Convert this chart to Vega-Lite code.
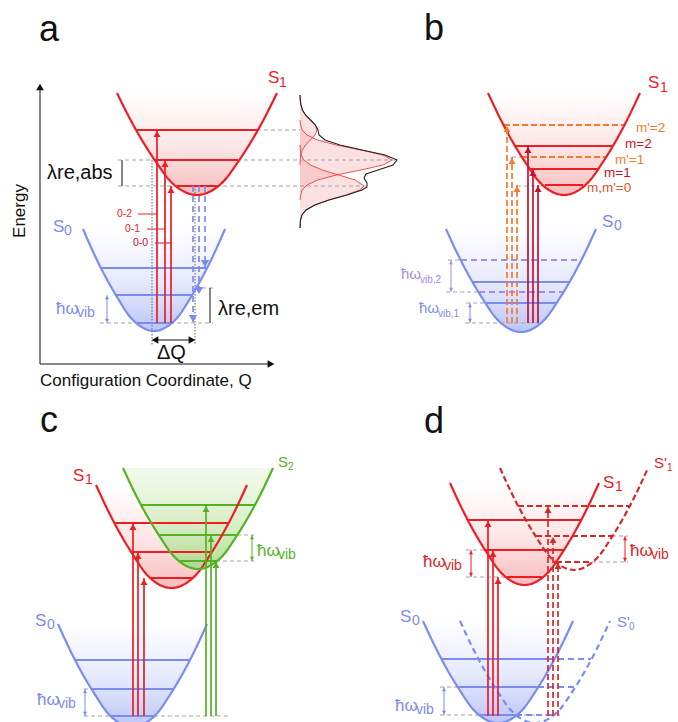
{
 "$schema": "https://vega.github.io/schema/vega-lite/v6.json",
 "width": 678, "height": 722, "padding": 0, "autosize": {"type": "none"},
 "background": "white",
 "config": {"view": {"stroke": null}, "text": {"font": "Liberation Sans"}},
 "datasets": {
  "curves": [
   {"id":"aS1","s":"S1","x":117,"y":93},{"id":"aS1","s":"S1","x":130.3,"y":119.5},{"id":"aS1","s":"S1","x":143.7,"y":143},{"id":"aS1","s":"S1","x":157,"y":163.4},{"id":"aS1","s":"S1","x":170.3,"y":181.2},{"id":"aS1","s":"S1","x":183.7,"y":191.4},{"id":"aS1","s":"S1","x":197,"y":195},{"id":"aS1","s":"S1","x":210.3,"y":191.4},{"id":"aS1","s":"S1","x":223.7,"y":181.2},{"id":"aS1","s":"S1","x":237,"y":163.4},{"id":"aS1","s":"S1","x":250.3,"y":143},{"id":"aS1","s":"S1","x":263.7,"y":119.5},{"id":"aS1","s":"S1","x":277,"y":93},
   {"id":"aS0","s":"S0","x":83,"y":229},{"id":"aS0","s":"S0","x":94.8,"y":255.5},{"id":"aS0","s":"S0","x":106.7,"y":279},{"id":"aS0","s":"S0","x":118.5,"y":299.4},{"id":"aS0","s":"S0","x":130.3,"y":317.2},{"id":"aS0","s":"S0","x":142.2,"y":327.4},{"id":"aS0","s":"S0","x":154,"y":331},{"id":"aS0","s":"S0","x":165.8,"y":327.4},{"id":"aS0","s":"S0","x":177.7,"y":317.2},{"id":"aS0","s":"S0","x":189.5,"y":299.4},{"id":"aS0","s":"S0","x":201.3,"y":279},{"id":"aS0","s":"S0","x":213.2,"y":255.5},{"id":"aS0","s":"S0","x":225,"y":229},
   {"id":"bS1","s":"S1","x":488,"y":93},{"id":"bS1","s":"S1","x":500.7,"y":119.5},{"id":"bS1","s":"S1","x":513.3,"y":143},{"id":"bS1","s":"S1","x":526,"y":163.4},{"id":"bS1","s":"S1","x":538.7,"y":181.2},{"id":"bS1","s":"S1","x":551.3,"y":191.4},{"id":"bS1","s":"S1","x":564,"y":195},{"id":"bS1","s":"S1","x":576.7,"y":191.4},{"id":"bS1","s":"S1","x":589.3,"y":181.2},{"id":"bS1","s":"S1","x":602,"y":163.4},{"id":"bS1","s":"S1","x":614.7,"y":143},{"id":"bS1","s":"S1","x":627.3,"y":119.5},{"id":"bS1","s":"S1","x":640,"y":93},
   {"id":"bS0","s":"S0","x":446,"y":229},{"id":"bS0","s":"S0","x":458.5,"y":255.8},{"id":"bS0","s":"S0","x":471,"y":279.5},{"id":"bS0","s":"S0","x":483.5,"y":300.1},{"id":"bS0","s":"S0","x":496,"y":318.1},{"id":"bS0","s":"S0","x":508.5,"y":328.4},{"id":"bS0","s":"S0","x":521,"y":332},{"id":"bS0","s":"S0","x":533.5,"y":328.4},{"id":"bS0","s":"S0","x":546,"y":318.1},{"id":"bS0","s":"S0","x":558.5,"y":300.1},{"id":"bS0","s":"S0","x":571,"y":279.5},{"id":"bS0","s":"S0","x":583.5,"y":255.8},{"id":"bS0","s":"S0","x":596,"y":229},
   {"id":"cS1","s":"S1","x":96,"y":485},{"id":"cS1","s":"S1","x":108.6,"y":511.8},{"id":"cS1","s":"S1","x":121.2,"y":535.5},{"id":"cS1","s":"S1","x":133.8,"y":556.1},{"id":"cS1","s":"S1","x":146.3,"y":574.1},{"id":"cS1","s":"S1","x":158.9,"y":584.4},{"id":"cS1","s":"S1","x":171.5,"y":588},{"id":"cS1","s":"S1","x":184.1,"y":584.4},{"id":"cS1","s":"S1","x":196.7,"y":574.1},{"id":"cS1","s":"S1","x":209.3,"y":556.1},{"id":"cS1","s":"S1","x":221.8,"y":535.5},{"id":"cS1","s":"S1","x":234.4,"y":511.8},{"id":"cS1","s":"S1","x":247,"y":485},
   {"id":"cS2","s":"S2","x":123,"y":468},{"id":"cS2","s":"S2","x":135.5,"y":494.3},{"id":"cS2","s":"S2","x":148,"y":517.5},{"id":"cS2","s":"S2","x":160.5,"y":537.7},{"id":"cS2","s":"S2","x":173,"y":555.4},{"id":"cS2","s":"S2","x":185.5,"y":565.5},{"id":"cS2","s":"S2","x":198,"y":569},{"id":"cS2","s":"S2","x":210.5,"y":565.5},{"id":"cS2","s":"S2","x":223,"y":555.4},{"id":"cS2","s":"S2","x":235.5,"y":537.7},{"id":"cS2","s":"S2","x":248,"y":517.5},{"id":"cS2","s":"S2","x":260.5,"y":494.3},{"id":"cS2","s":"S2","x":273,"y":468},
   {"id":"cS0","s":"S0","x":58,"y":624},{"id":"cS0","s":"S0","x":70.4,"y":650.8},{"id":"cS0","s":"S0","x":82.8,"y":674.5},{"id":"cS0","s":"S0","x":95.3,"y":695.1},{"id":"cS0","s":"S0","x":107.7,"y":713.1},{"id":"cS0","s":"S0","x":120.1,"y":723.4},{"id":"cS0","s":"S0","x":132.5,"y":727},{"id":"cS0","s":"S0","x":144.9,"y":723.4},{"id":"cS0","s":"S0","x":157.3,"y":713.1},{"id":"cS0","s":"S0","x":169.8,"y":695.1},{"id":"cS0","s":"S0","x":182.2,"y":674.5},{"id":"cS0","s":"S0","x":194.6,"y":650.8},{"id":"cS0","s":"S0","x":207,"y":624},
   {"id":"dS1","s":"S1","x":450,"y":483},{"id":"dS1","s":"S1","x":462.4,"y":509.5},{"id":"dS1","s":"S1","x":474.8,"y":533},{"id":"dS1","s":"S1","x":487.3,"y":553.4},{"id":"dS1","s":"S1","x":499.7,"y":571.2},{"id":"dS1","s":"S1","x":512.1,"y":581.4},{"id":"dS1","s":"S1","x":524.5,"y":585},{"id":"dS1","s":"S1","x":536.9,"y":581.4},{"id":"dS1","s":"S1","x":549.3,"y":571.2},{"id":"dS1","s":"S1","x":561.8,"y":553.4},{"id":"dS1","s":"S1","x":574.2,"y":533},{"id":"dS1","s":"S1","x":586.6,"y":509.5},{"id":"dS1","s":"S1","x":599,"y":483},
   {"id":"dS1p","s":"S1'","x":500,"y":468},{"id":"dS1p","s":"S1'","x":512.3,"y":494.5},{"id":"dS1p","s":"S1'","x":524.7,"y":518},{"id":"dS1p","s":"S1'","x":537,"y":538.4},{"id":"dS1p","s":"S1'","x":549.3,"y":556.2},{"id":"dS1p","s":"S1'","x":561.7,"y":566.4},{"id":"dS1p","s":"S1'","x":574,"y":570},{"id":"dS1p","s":"S1'","x":586.3,"y":566.4},{"id":"dS1p","s":"S1'","x":598.7,"y":556.2},{"id":"dS1p","s":"S1'","x":611,"y":538.4},{"id":"dS1p","s":"S1'","x":623.3,"y":518},{"id":"dS1p","s":"S1'","x":635.7,"y":494.5},{"id":"dS1p","s":"S1'","x":648,"y":468},
   {"id":"dS0","s":"S0","x":423,"y":621},{"id":"dS0","s":"S0","x":435.5,"y":647.5},{"id":"dS0","s":"S0","x":448,"y":671},{"id":"dS0","s":"S0","x":460.5,"y":691.4},{"id":"dS0","s":"S0","x":473,"y":709.2},{"id":"dS0","s":"S0","x":485.5,"y":719.4},{"id":"dS0","s":"S0","x":498,"y":723},{"id":"dS0","s":"S0","x":510.5,"y":719.4},{"id":"dS0","s":"S0","x":523,"y":709.2},{"id":"dS0","s":"S0","x":535.5,"y":691.4},{"id":"dS0","s":"S0","x":548,"y":671},{"id":"dS0","s":"S0","x":560.5,"y":647.5},{"id":"dS0","s":"S0","x":573,"y":621},
   {"id":"dS0p","s":"S0'","x":460,"y":621},{"id":"dS0p","s":"S0'","x":472.5,"y":647.5},{"id":"dS0p","s":"S0'","x":485,"y":671},{"id":"dS0p","s":"S0'","x":497.5,"y":691.4},{"id":"dS0p","s":"S0'","x":510,"y":709.2},{"id":"dS0p","s":"S0'","x":522.5,"y":719.4},{"id":"dS0p","s":"S0'","x":535,"y":723},{"id":"dS0p","s":"S0'","x":547.5,"y":719.4},{"id":"dS0p","s":"S0'","x":560,"y":709.2},{"id":"dS0p","s":"S0'","x":572.5,"y":691.4},{"id":"dS0p","s":"S0'","x":585,"y":671},{"id":"dS0p","s":"S0'","x":597.5,"y":647.5},{"id":"dS0p","s":"S0'","x":610,"y":621}
  ],
  "spec": [
   {"c":"A","y":95,"x":300},{"c":"A","y":100,"x":300.2},{"c":"A","y":105,"x":300.7},{"c":"A","y":110,"x":302.3},{"c":"A","y":115,"x":305.5},{"c":"A","y":120,"x":310.3},{"c":"A","y":125,"x":315},{"c":"A","y":130,"x":317},{"c":"A","y":135,"x":315},{"c":"A","y":140,"x":310.3},{"c":"A","y":145,"x":305.5},{"c":"A","y":150,"x":302.3},{"c":"A","y":155,"x":300.7},{"c":"A","y":160,"x":300.2},{"c":"A","y":165,"x":300},
   {"c":"B","y":120,"x":300},{"c":"B","y":125,"x":300.6},{"c":"B","y":130,"x":302.2},{"c":"B","y":135,"x":307},{"c":"B","y":140,"x":317.6},{"c":"B","y":145,"x":336.3},{"c":"B","y":150,"x":360.9},{"c":"B","y":155,"x":383},{"c":"B","y":160,"x":392},{"c":"B","y":165,"x":383},{"c":"B","y":170,"x":360.9},{"c":"B","y":175,"x":336.3},{"c":"B","y":180,"x":317.6},{"c":"B","y":185,"x":307},{"c":"B","y":190,"x":302.2},{"c":"B","y":195,"x":300.6},{"c":"B","y":200,"x":300},
   {"c":"C","y":145,"x":300},{"c":"C","y":150,"x":300.3},{"c":"C","y":155,"x":301.2},{"c":"C","y":160,"x":303.9},{"c":"C","y":165,"x":310.4},{"c":"C","y":170,"x":322.2},{"c":"C","y":175,"x":338.8},{"c":"C","y":180,"x":355.2},{"c":"C","y":186,"x":364},{"c":"C","y":190,"x":359.9},{"c":"C","y":195,"x":345.8},{"c":"C","y":200,"x":328.5},{"c":"C","y":205,"x":314.4},{"c":"C","y":210,"x":306},{"c":"C","y":215,"x":302},{"c":"C","y":220,"x":300.5},{"c":"C","y":228,"x":300}
  ],
  "total": [
   {"y":95,"x":300},{"y":100,"x":300.3},{"y":105,"x":301},{"y":110,"x":302.5},{"y":115,"x":305.5},{"y":120,"x":310.5},{"y":125,"x":315.5},{"y":130,"x":318},{"y":135,"x":319},{"y":140,"x":325},{"y":145,"x":340},{"y":150,"x":362},{"y":155,"x":385},{"y":160,"x":397},{"y":165,"x":393},{"y":170,"x":378},{"y":174,"x":366},{"y":178,"x":364},{"y":183,"x":367},{"y":187,"x":367},{"y":190,"x":362},{"y":195,"x":347},{"y":200,"x":329},{"y":205,"x":315},{"y":210,"x":306},{"y":215,"x":302},{"y":220,"x":300.5},{"y":228,"x":300}
  ],
  "levels": [
   {"s":"S1","y":130,"x":137,"x2":257},{"s":"S1","y":160,"x":155,"x2":238},{"s":"S1","y":186,"x":177,"x2":217},
   {"s":"S0","y":268,"x":101,"x2":206},{"s":"S0","y":295,"x":116,"x2":192},{"s":"S0","y":323,"x":137,"x2":171},
   {"s":"m'","y":125,"x":504,"x2":624},{"s":"S1","y":146,"x":515,"x2":613},{"s":"m'","y":157,"x":522,"x2":606},{"s":"S1","y":169,"x":530,"x2":598},{"s":"S1","y":185,"x":545,"x2":583},
   {"s":"v2","y":260,"x":461,"x2":581},{"s":"S0","y":282,"x":472,"x2":569},{"s":"v2","y":292,"x":479,"x2":563},{"s":"S0","y":303,"x":485,"x2":557},
   {"s":"S1","y":523,"x":115,"x2":228},{"s":"S1","y":552,"x":131,"x2":212},{"s":"S1","y":578,"x":151,"x2":192},
   {"s":"S2","y":505,"x":141,"x2":255},{"s":"S2","y":535,"x":159,"x2":237},{"s":"S2","y":561,"x":180,"x2":216},
   {"s":"S0","y":660,"x":75,"x2":190},{"s":"S0","y":689,"x":92,"x2":173},{"s":"S0","y":716,"x":111,"x2":154},
   {"s":"S1","y":520,"x":468,"x2":581},{"s":"S1","y":550,"x":485,"x2":564},{"s":"S1","y":577,"x":507,"x2":542},
   {"s":"S1'","y":506,"x":518,"x2":630},{"s":"S1'","y":536,"x":536,"x2":612},{"s":"S1'","y":562,"x":556,"x2":592},
   {"s":"S0","y":659,"x":442,"x2":548},{"s":"S0","y":687,"x":458,"x2":538},{"s":"S0","y":715,"x":480,"x2":516},
   {"s":"S0'","y":659,"x":548,"x2":591},{"s":"S0'","y":687,"x":538,"x2":575},{"s":"S0'","y":715,"x":516,"x2":553}
  ],
  "hguides": [
   {"s":"guide","y":130,"x":257,"x2":300},{"s":"guide","y":160,"x":118,"x2":397},{"s":"guide","y":186,"x":118,"x2":367},{"s":"guide","y":288,"x":195,"x2":214},{"s":"guide","y":323,"x":100,"x2":213},
   {"s":"S1","y":214,"x":138,"x2":157},{"s":"S1","y":229,"x":147,"x2":165},{"s":"crim","y":243,"x":155,"x2":171},
   {"s":"guide","y":260,"x":448,"x2":461},{"s":"guide","y":292,"x":446,"x2":479},{"s":"guide","y":303,"x":466,"x2":485},{"s":"guide","y":323,"x":465,"x2":540},{"s":"guide","y":157,"x":512,"x2":523},{"s":"guide","y":186,"x":517,"x2":545},
   {"s":"guide","y":535,"x":237,"x2":254},{"s":"guide","y":561,"x":216,"x2":254},{"s":"guide","y":689,"x":84,"x2":92},{"s":"guide","y":716,"x":84,"x2":228},
   {"s":"guide","y":550,"x":466,"x2":485},{"s":"guide","y":577,"x":466,"x2":507},{"s":"guide","y":536,"x":612,"x2":628},{"s":"guide","y":562,"x":592,"x2":628},{"s":"guide","y":687,"x":440,"x2":458},{"s":"guide","y":715,"x":440,"x2":560},
   {"s":"ink","y":364,"x":40,"x2":271},{"s":"ink","y":340,"x":154,"x2":193}
  ],
  "vguides": [
   {"s":"dot","x":152,"y":160,"y2":345},{"s":"dot","x":195,"y":186,"y2":345},
   {"s":"ink","x":40,"y":88,"y2":364},
   {"s":"ink","x":122,"y":160,"y2":186},{"s":"ink","x":210,"y":288,"y2":323}
  ],
  "arrows": [
   {"s":"S1","tr":"abs","x":157,"y":323,"y2":130},{"s":"S1","tr":"abs","x":165,"y":323,"y2":160},{"s":"S1","tr":"abs","x":171,"y":323,"y2":186},
   {"s":"S0'","tr":"em","x":193,"y":186,"y2":323},{"s":"S0'","tr":"em","x":199,"y":186,"y2":295},{"s":"S0'","tr":"em","x":205,"y":186,"y2":268},
   {"s":"m'","tr":"abs","x":507,"y":323,"y2":125},{"s":"m'","tr":"abs","x":512,"y":323,"y2":157},{"s":"m'","tr":"abs","x":517,"y":323,"y2":185},
   {"s":"crim","tr":"abs","x":528,"y":323,"y2":146},{"s":"crim","tr":"abs","x":533,"y":323,"y2":169},{"s":"crim","tr":"abs","x":538,"y":323,"y2":185},
   {"s":"S1","tr":"abs","x":133,"y":716,"y2":523},{"s":"S1","tr":"abs","x":138,"y":716,"y2":552},{"s":"S1","tr":"abs","x":144,"y":716,"y2":578},
   {"s":"S2","tr":"abs","x":206,"y":716,"y2":505},{"s":"S2","tr":"abs","x":211,"y":716,"y2":535},{"s":"S2","tr":"abs","x":216,"y":716,"y2":561},
   {"s":"S1","tr":"abs","x":488,"y":716,"y2":520},{"s":"S1","tr":"abs","x":493,"y":716,"y2":550},{"s":"S1","tr":"abs","x":498,"y":716,"y2":577},
   {"s":"S1'","tr":"abs","x":548,"y":716,"y2":506},{"s":"S1'","tr":"abs","x":553,"y":716,"y2":536},{"s":"S1'","tr":"abs","x":558,"y":716,"y2":562}
  ],
  "brackets": [
   {"s":"S0","x":107,"y":295,"y2":323},{"s":"v2","x":451,"y":260,"y2":292},{"s":"S0","x":470,"y":303,"y2":323},
   {"s":"S2","x":252,"y":535,"y2":561},{"s":"S0","x":85,"y":689,"y2":716},
   {"s":"S1","x":471,"y":550,"y2":577},{"s":"S1","x":625,"y":536,"y2":562},{"s":"S0","x":444,"y":687,"y2":715}
  ],
  "heads": [
   {"d":"up","x":40,"y":87},{"d":"right","x":271,"y":364},{"d":"left","x":155,"y":340},{"d":"right","x":192,"y":340}
  ],
  "labels": [
   {"t":"a","x":39,"y":41,"s":"ink","r":"L"},{"t":"b","x":424,"y":40,"s":"ink","r":"L"},{"t":"c","x":40,"y":432,"s":"ink","r":"L"},{"t":"d","x":424,"y":433,"s":"ink","r":"L"},
   {"t":"Configuration Coordinate, Q","x":40,"y":386,"s":"ink","r":"ax"},
   {"t":"S","x":268,"y":83,"s":"S1","r":"st"},{"t":"1","x":279,"y":87,"s":"S1","r":"stS"},
   {"t":"S","x":53,"y":232,"s":"S0","r":"st"},{"t":"0","x":64,"y":235,"s":"S0","r":"stS"},
   {"t":"λre,abs","x":47,"y":179,"s":"ink","r":"big"},{"t":"λre,em","x":218,"y":315,"s":"ink","r":"big"},{"t":"ΔQ","x":157,"y":359,"s":"ink","r":"big"},
   {"t":"ħω","x":56,"y":314,"s":"S0","r":"hw"},{"t":"vib","x":77,"y":317,"s":"S0","r":"hws"},
   {"t":"0-2","x":117,"y":217,"s":"S1","r":"tr"},{"t":"0-1","x":125,"y":232,"s":"S1","r":"tr"},{"t":"0-0","x":133,"y":246,"s":"crim","r":"tr"},
   {"t":"S","x":648,"y":88,"s":"S1","r":"st"},{"t":"1","x":660,"y":92,"s":"S1","r":"stS"},
   {"t":"S","x":602,"y":227,"s":"S0","r":"st"},{"t":"0","x":614,"y":230,"s":"S0","r":"stS"},
   {"t":"m'=2","x":636,"y":132,"s":"m'","r":"m"},{"t":"m=2","x":625,"y":148,"s":"crim","r":"m"},{"t":"m'=1","x":615,"y":164,"s":"m'","r":"m"},{"t":"m=1","x":604,"y":177,"s":"crim","r":"m"},{"t":"m,m'=0","x":587,"y":192,"s":"m0","r":"m"},
   {"t":"ħω","x":401,"y":279,"s":"v2","r":"hw2"},{"t":"vib,2","x":420,"y":283,"s":"v2","r":"hw2s"},
   {"t":"ħω","x":419,"y":313,"s":"S0","r":"hw2"},{"t":"vib,1","x":438,"y":317,"s":"S0","r":"hw2s"},
   {"t":"S","x":73,"y":481,"s":"S1","r":"st"},{"t":"1","x":85,"y":484,"s":"S1","r":"stS"},
   {"t":"S","x":278,"y":467,"s":"S2","r":"st2"},{"t":"2","x":288,"y":470,"s":"S2","r":"st2S"},
   {"t":"S","x":35,"y":626,"s":"S0","r":"st"},{"t":"0","x":47,"y":629,"s":"S0","r":"stS"},
   {"t":"ħω","x":257,"y":556,"s":"S2","r":"hw"},{"t":"vib","x":278,"y":559,"s":"S2","r":"hws"},
   {"t":"ħω","x":37,"y":705,"s":"S0","r":"hw"},{"t":"vib","x":58,"y":708,"s":"S0","r":"hws"},
   {"t":"S","x":603,"y":488,"s":"S1","r":"st"},{"t":"1","x":615,"y":491,"s":"S1","r":"stS"},
   {"t":"S'","x":654,"y":468,"s":"S1'","r":"st2"},{"t":"1","x":667,"y":471,"s":"S1'","r":"st2S"},
   {"t":"ħω","x":423,"y":567,"s":"S1'","r":"hw"},{"t":"vib","x":444,"y":570,"s":"S1'","r":"hws"},
   {"t":"ħω","x":630,"y":556,"s":"S1'","r":"hw"},{"t":"vib","x":651,"y":559,"s":"S1'","r":"hws"},
   {"t":"S","x":400,"y":622,"s":"S0","r":"st"},{"t":"0","x":412,"y":625,"s":"S0","r":"stS"},
   {"t":"S'","x":617,"y":627,"s":"S0","r":"st2"},{"t":"0","x":629,"y":630,"s":"S0","r":"st2S"},
   {"t":"ħω","x":395,"y":711,"s":"S0","r":"hw"},{"t":"vib","x":416,"y":714,"s":"S0","r":"hws"}
  ],
  "vlabels": [{"t":"Energy","x":25,"y":211,"s":"ink"}]
 },
 "encoding": {
  "x": {"field":"x","type":"quantitative","scale":{"domain":[0,678],"nice":false,"zero":false},"axis":null},
  "y": {"field":"y","type":"quantitative","scale":{"domain":[0,722],"nice":false,"zero":false,"reverse":true},"axis":null}
 },
 "layer": [
  {"data":{"name":"curves"},
   "transform":[{"filter":{"field":"id","oneOf":["aS1","bS1","cS1","dS1"]}},{"joinaggregate":[{"op":"min","field":"y","as":"top"}],"groupby":["id"]}],
   "mark":{"type":"area","clip":true,"fill":{"gradient":"linear","x1":0,"y1":0,"x2":0,"y2":1,"stops":[{"offset":0,"color":"#ffffff"},{"offset":0.55,"color":"#fde4e4"},{"offset":1,"color":"#f8bdbd"}]}},
   "encoding":{"y2":{"field":"top"},"detail":{"field":"id"}}},
  {"data":{"name":"curves"},
   "transform":[{"filter":{"field":"id","oneOf":["aS0","bS0","cS0","dS0"]}},{"joinaggregate":[{"op":"min","field":"y","as":"top"}],"groupby":["id"]}],
   "mark":{"type":"area","clip":true,"fill":{"gradient":"linear","x1":0,"y1":0,"x2":0,"y2":1,"stops":[{"offset":0,"color":"#ffffff"},{"offset":0.55,"color":"#e4e8fd"},{"offset":1,"color":"#bcc6f7"}]}},
   "encoding":{"y2":{"field":"top"},"detail":{"field":"id"}}},
  {"data":{"name":"curves"},
   "transform":[{"filter":{"field":"id","oneOf":["cS2"]}},{"joinaggregate":[{"op":"min","field":"y","as":"top"}],"groupby":["id"]}],
   "mark":{"type":"area","clip":true,"opacity":0.85,"fill":{"gradient":"linear","x1":0,"y1":0,"x2":0,"y2":1,"stops":[{"offset":0,"color":"#f1faea"},{"offset":0.55,"color":"#d3edc0"},{"offset":1,"color":"#a6d986"}]}},
   "encoding":{"y2":{"field":"top"},"detail":{"field":"id"}}},
  {"data":{"name":"spec"},
   "mark":{"type":"area","orient":"horizontal","fill":"#f29a9a","fillOpacity":0.3},
   "encoding":{"x2":{"datum":300},"detail":{"field":"c"}}},
  {"data":{"name":"spec"},
   "mark":{"type":"line","color":"#ee2a2a","strokeWidth":0.8},
   "encoding":{"detail":{"field":"c"},"order":{"field":"y","type":"quantitative"}}},
  {"data":{"name":"total"},
   "mark":{"type":"line","color":"#222222","strokeWidth":1.1},
   "encoding":{"order":{"field":"y","type":"quantitative"}}},
  {"data":{"name":"hguides"},
   "mark":{"type":"rule","strokeWidth":1},
   "encoding":{"x2":{"field":"x2"},
    "color":{"field":"s","type":"nominal","legend":null,"scale":{"domain":["S1","S1'","S0","S0'","S2","m'","v2","crim","m0","ink","guide","dot"],"range":["#ee1d23","#d42a2a","#7b8cf0","#7b8cf0","#55b226","#f47b2c","#a48de8","#c8102e","#d4562e","#111111","#a3a3a3","#666666"]}},
    "strokeDash":{"field":"s","type":"nominal","legend":null,"scale":{"domain":["S1","S1'","S0","S0'","S2","m'","v2","crim","m0","ink","guide","dot"],"range":[[1,0],[6,3],[1,0],[6,4],[1,0],[6,3],[6,4],[1,0],[1,0],[1,0],[4,3],[1.5,1.5]]}}}},
  {"data":{"name":"vguides"},
   "mark":{"type":"rule","strokeWidth":1},
   "encoding":{"y2":{"field":"y2"},
    "color":{"field":"s","type":"nominal","legend":null,"scale":{"domain":["S1","S1'","S0","S0'","S2","m'","v2","crim","m0","ink","guide","dot"],"range":["#ee1d23","#d42a2a","#7b8cf0","#7b8cf0","#55b226","#f47b2c","#a48de8","#c8102e","#d4562e","#111111","#a3a3a3","#666666"]}},
    "strokeDash":{"field":"s","type":"nominal","legend":null,"scale":{"domain":["S1","S1'","S0","S0'","S2","m'","v2","crim","m0","ink","guide","dot"],"range":[[1,0],[6,3],[1,0],[6,4],[1,0],[6,3],[6,4],[1,0],[1,0],[1,0],[4,3],[1.5,1.5]]}}}},
  {"data":{"name":"levels"},
   "mark":{"type":"rule","strokeWidth":2},
   "encoding":{"x2":{"field":"x2"},
    "color":{"field":"s","type":"nominal","legend":null,"scale":{"domain":["S1","S1'","S0","S0'","S2","m'","v2","crim","m0","ink","guide","dot"],"range":["#ee1d23","#d42a2a","#7b8cf0","#7b8cf0","#55b226","#f47b2c","#a48de8","#c8102e","#d4562e","#111111","#a3a3a3","#666666"]}},
    "strokeDash":{"field":"s","type":"nominal","legend":null,"scale":{"domain":["S1","S1'","S0","S0'","S2","m'","v2","crim","m0","ink","guide","dot"],"range":[[1,0],[6,3],[1,0],[6,4],[1,0],[6,3],[6,4],[1,0],[1,0],[1,0],[4,3],[1.5,1.5]]}}}},
  {"data":{"name":"curves"},
   "mark":{"type":"line","strokeWidth":2.2,"interpolate":"monotone","clip":true},
   "encoding":{"detail":{"field":"id"},
    "color":{"field":"s","type":"nominal","legend":null,"scale":{"domain":["S1","S1'","S0","S0'","S2","m'","v2","crim","m0","ink","guide","dot"],"range":["#ee1d23","#d42a2a","#7b8cf0","#7b8cf0","#55b226","#f47b2c","#a48de8","#c8102e","#d4562e","#111111","#a3a3a3","#666666"]}},
    "strokeDash":{"field":"s","type":"nominal","legend":null,"scale":{"domain":["S1","S1'","S0","S0'","S2","m'","v2","crim","m0","ink","guide","dot"],"range":[[1,0],[6,3],[1,0],[6,4],[1,0],[6,3],[6,4],[1,0],[1,0],[1,0],[4,3],[1.5,1.5]]}}}},
  {"data":{"name":"arrows"},
   "mark":{"type":"rule","strokeWidth":1.7},
   "encoding":{"y2":{"field":"y2"},
    "color":{"field":"s","type":"nominal","legend":null,"scale":{"domain":["S1","S1'","S0","S0'","S2","m'","v2","crim","m0","ink","guide","dot"],"range":["#ee1d23","#d42a2a","#7b8cf0","#7b8cf0","#55b226","#f47b2c","#a48de8","#c8102e","#d4562e","#111111","#a3a3a3","#666666"]}},
    "strokeDash":{"field":"s","type":"nominal","legend":null,"scale":{"domain":["S1","S1'","S0","S0'","S2","m'","v2","crim","m0","ink","guide","dot"],"range":[[1,0],[6,3],[1,0],[6,4],[1,0],[6,3],[6,4],[1,0],[1,0],[1,0],[4,3],[1.5,1.5]]}}}},
  {"data":{"name":"arrows"},
   "transform":[{"filter":"datum.tr == 'abs'"}],
   "mark":{"type":"point","shape":"triangle-up","filled":true,"opacity":1,"size":50,"yOffset":4},
   "encoding":{"y":{"field":"y2","type":"quantitative","scale":{"domain":[0,722],"nice":false,"zero":false,"reverse":true},"axis":null},
    "color":{"field":"s","type":"nominal","legend":null,"scale":{"domain":["S1","S1'","S0","S0'","S2","m'","v2","crim","m0","ink","guide","dot"],"range":["#ee1d23","#d42a2a","#7b8cf0","#7b8cf0","#55b226","#f47b2c","#a48de8","#c8102e","#d4562e","#111111","#a3a3a3","#666666"]}}}},
  {"data":{"name":"arrows"},
   "transform":[{"filter":"datum.tr == 'em'"}],
   "mark":{"type":"point","shape":"triangle-down","filled":true,"opacity":1,"size":70,"yOffset":-4.5},
   "encoding":{"y":{"field":"y2","type":"quantitative","scale":{"domain":[0,722],"nice":false,"zero":false,"reverse":true},"axis":null},
    "color":{"field":"s","type":"nominal","legend":null,"scale":{"domain":["S1","S1'","S0","S0'","S2","m'","v2","crim","m0","ink","guide","dot"],"range":["#ee1d23","#d42a2a","#7b8cf0","#7b8cf0","#55b226","#f47b2c","#a48de8","#c8102e","#d4562e","#111111","#a3a3a3","#666666"]}}}},
  {"data":{"name":"brackets"},
   "mark":{"type":"rule","strokeWidth":1},
   "encoding":{"y2":{"field":"y2"},
    "color":{"field":"s","type":"nominal","legend":null,"scale":{"domain":["S1","S1'","S0","S0'","S2","m'","v2","crim","m0","ink","guide","dot"],"range":["#ee1d23","#d42a2a","#7b8cf0","#7b8cf0","#55b226","#f47b2c","#a48de8","#c8102e","#d4562e","#111111","#a3a3a3","#666666"]}}}},
  {"data":{"name":"brackets"},
   "mark":{"type":"point","shape":"triangle-up","filled":true,"opacity":1,"size":16,"yOffset":2.5},
   "encoding":{
    "color":{"field":"s","type":"nominal","legend":null,"scale":{"domain":["S1","S1'","S0","S0'","S2","m'","v2","crim","m0","ink","guide","dot"],"range":["#ee1d23","#d42a2a","#7b8cf0","#7b8cf0","#55b226","#f47b2c","#a48de8","#c8102e","#d4562e","#111111","#a3a3a3","#666666"]}}}},
  {"data":{"name":"brackets"},
   "mark":{"type":"point","shape":"triangle-down","filled":true,"opacity":1,"size":16,"yOffset":-2.5},
   "encoding":{"y":{"field":"y2","type":"quantitative","scale":{"domain":[0,722],"nice":false,"zero":false,"reverse":true},"axis":null},
    "color":{"field":"s","type":"nominal","legend":null,"scale":{"domain":["S1","S1'","S0","S0'","S2","m'","v2","crim","m0","ink","guide","dot"],"range":["#ee1d23","#d42a2a","#7b8cf0","#7b8cf0","#55b226","#f47b2c","#a48de8","#c8102e","#d4562e","#111111","#a3a3a3","#666666"]}}}},
  {"data":{"name":"heads"},
   "mark":{"type":"point","filled":true,"opacity":1,"size":60,"color":"#111111"},
   "encoding":{"shape":{"field":"d","type":"nominal","legend":null,"scale":{"domain":["up","down","left","right"],"range":["triangle-up","triangle-down","triangle-left","triangle-right"]}}}},
  {"data":{"name":"labels"},"transform":[{"filter":"datum.r == 'L'"}],
   "mark":{"type":"text","align":"left","baseline":"alphabetic","fontSize":36,"font":"Liberation Sans"},
   "encoding":{"text":{"field":"t"},"color":{"field":"s","type":"nominal","legend":null,"scale":{"domain":["S1","S1'","S0","S0'","S2","m'","v2","crim","m0","ink","guide","dot"],"range":["#ee1d23","#d42a2a","#7b8cf0","#7b8cf0","#55b226","#f47b2c","#a48de8","#c8102e","#d4562e","#111111","#a3a3a3","#666666"]}}}},
  {"data":{"name":"labels"},"transform":[{"filter":"datum.r == 'ax'"}],
   "mark":{"type":"text","align":"left","baseline":"alphabetic","fontSize":17,"font":"Liberation Sans"},
   "encoding":{"text":{"field":"t"},"color":{"field":"s","type":"nominal","legend":null,"scale":{"domain":["S1","S1'","S0","S0'","S2","m'","v2","crim","m0","ink","guide","dot"],"range":["#ee1d23","#d42a2a","#7b8cf0","#7b8cf0","#55b226","#f47b2c","#a48de8","#c8102e","#d4562e","#111111","#a3a3a3","#666666"]}}}},
  {"data":{"name":"vlabels"},
   "mark":{"type":"text","align":"center","baseline":"alphabetic","fontSize":17,"angle":270,"font":"Liberation Sans"},
   "encoding":{"text":{"field":"t"},"color":{"field":"s","type":"nominal","legend":null,"scale":{"domain":["S1","S1'","S0","S0'","S2","m'","v2","crim","m0","ink","guide","dot"],"range":["#ee1d23","#d42a2a","#7b8cf0","#7b8cf0","#55b226","#f47b2c","#a48de8","#c8102e","#d4562e","#111111","#a3a3a3","#666666"]}}}},
  {"data":{"name":"labels"},"transform":[{"filter":"datum.r == 'big'"}],
   "mark":{"type":"text","align":"left","baseline":"alphabetic","fontSize":20,"font":"Liberation Sans"},
   "encoding":{"text":{"field":"t"},"color":{"field":"s","type":"nominal","legend":null,"scale":{"domain":["S1","S1'","S0","S0'","S2","m'","v2","crim","m0","ink","guide","dot"],"range":["#ee1d23","#d42a2a","#7b8cf0","#7b8cf0","#55b226","#f47b2c","#a48de8","#c8102e","#d4562e","#111111","#a3a3a3","#666666"]}}}},
  {"data":{"name":"labels"},"transform":[{"filter":"datum.r == 'st'"}],
   "mark":{"type":"text","align":"left","baseline":"alphabetic","fontSize":17,"font":"Liberation Sans"},
   "encoding":{"text":{"field":"t"},"color":{"field":"s","type":"nominal","legend":null,"scale":{"domain":["S1","S1'","S0","S0'","S2","m'","v2","crim","m0","ink","guide","dot"],"range":["#ee1d23","#d42a2a","#7b8cf0","#7b8cf0","#55b226","#f47b2c","#a48de8","#c8102e","#d4562e","#111111","#a3a3a3","#666666"]}}}},
  {"data":{"name":"labels"},"transform":[{"filter":"datum.r == 'stS'"}],
   "mark":{"type":"text","align":"left","baseline":"alphabetic","fontSize":14,"font":"Liberation Sans"},
   "encoding":{"text":{"field":"t"},"color":{"field":"s","type":"nominal","legend":null,"scale":{"domain":["S1","S1'","S0","S0'","S2","m'","v2","crim","m0","ink","guide","dot"],"range":["#ee1d23","#d42a2a","#7b8cf0","#7b8cf0","#55b226","#f47b2c","#a48de8","#c8102e","#d4562e","#111111","#a3a3a3","#666666"]}}}},
  {"data":{"name":"labels"},"transform":[{"filter":"datum.r == 'st2'"}],
   "mark":{"type":"text","align":"left","baseline":"alphabetic","fontSize":15,"font":"Liberation Sans"},
   "encoding":{"text":{"field":"t"},"color":{"field":"s","type":"nominal","legend":null,"scale":{"domain":["S1","S1'","S0","S0'","S2","m'","v2","crim","m0","ink","guide","dot"],"range":["#ee1d23","#d42a2a","#7b8cf0","#7b8cf0","#55b226","#f47b2c","#a48de8","#c8102e","#d4562e","#111111","#a3a3a3","#666666"]}}}},
  {"data":{"name":"labels"},"transform":[{"filter":"datum.r == 'st2S'"}],
   "mark":{"type":"text","align":"left","baseline":"alphabetic","fontSize":10,"font":"Liberation Sans"},
   "encoding":{"text":{"field":"t"},"color":{"field":"s","type":"nominal","legend":null,"scale":{"domain":["S1","S1'","S0","S0'","S2","m'","v2","crim","m0","ink","guide","dot"],"range":["#ee1d23","#d42a2a","#7b8cf0","#7b8cf0","#55b226","#f47b2c","#a48de8","#c8102e","#d4562e","#111111","#a3a3a3","#666666"]}}}},
  {"data":{"name":"labels"},"transform":[{"filter":"datum.r == 'hw'"}],
   "mark":{"type":"text","align":"left","baseline":"alphabetic","fontSize":17,"font":"Liberation Sans"},
   "encoding":{"text":{"field":"t"},"color":{"field":"s","type":"nominal","legend":null,"scale":{"domain":["S1","S1'","S0","S0'","S2","m'","v2","crim","m0","ink","guide","dot"],"range":["#ee1d23","#d42a2a","#7b8cf0","#7b8cf0","#55b226","#f47b2c","#a48de8","#c8102e","#d4562e","#111111","#a3a3a3","#666666"]}}}},
  {"data":{"name":"labels"},"transform":[{"filter":"datum.r == 'hws'"}],
   "mark":{"type":"text","align":"left","baseline":"alphabetic","fontSize":14,"font":"Liberation Sans"},
   "encoding":{"text":{"field":"t"},"color":{"field":"s","type":"nominal","legend":null,"scale":{"domain":["S1","S1'","S0","S0'","S2","m'","v2","crim","m0","ink","guide","dot"],"range":["#ee1d23","#d42a2a","#7b8cf0","#7b8cf0","#55b226","#f47b2c","#a48de8","#c8102e","#d4562e","#111111","#a3a3a3","#666666"]}}}},
  {"data":{"name":"labels"},"transform":[{"filter":"datum.r == 'hw2'"}],
   "mark":{"type":"text","align":"left","baseline":"alphabetic","fontSize":15,"font":"Liberation Sans"},
   "encoding":{"text":{"field":"t"},"color":{"field":"s","type":"nominal","legend":null,"scale":{"domain":["S1","S1'","S0","S0'","S2","m'","v2","crim","m0","ink","guide","dot"],"range":["#ee1d23","#d42a2a","#7b8cf0","#7b8cf0","#55b226","#f47b2c","#a48de8","#c8102e","#d4562e","#111111","#a3a3a3","#666666"]}}}},
  {"data":{"name":"labels"},"transform":[{"filter":"datum.r == 'hw2s'"}],
   "mark":{"type":"text","align":"left","baseline":"alphabetic","fontSize":10,"font":"Liberation Sans"},
   "encoding":{"text":{"field":"t"},"color":{"field":"s","type":"nominal","legend":null,"scale":{"domain":["S1","S1'","S0","S0'","S2","m'","v2","crim","m0","ink","guide","dot"],"range":["#ee1d23","#d42a2a","#7b8cf0","#7b8cf0","#55b226","#f47b2c","#a48de8","#c8102e","#d4562e","#111111","#a3a3a3","#666666"]}}}},
  {"data":{"name":"labels"},"transform":[{"filter":"datum.r == 'm'"}],
   "mark":{"type":"text","align":"left","baseline":"alphabetic","fontSize":13.5,"font":"Liberation Sans"},
   "encoding":{"text":{"field":"t"},"color":{"field":"s","type":"nominal","legend":null,"scale":{"domain":["S1","S1'","S0","S0'","S2","m'","v2","crim","m0","ink","guide","dot"],"range":["#ee1d23","#d42a2a","#7b8cf0","#7b8cf0","#55b226","#f47b2c","#a48de8","#c8102e","#d4562e","#111111","#a3a3a3","#666666"]}}}},
  {"data":{"name":"labels"},"transform":[{"filter":"datum.r == 'tr'"}],
   "mark":{"type":"text","align":"left","baseline":"alphabetic","fontSize":10.5,"font":"Liberation Sans"},
   "encoding":{"text":{"field":"t"},"color":{"field":"s","type":"nominal","legend":null,"scale":{"domain":["S1","S1'","S0","S0'","S2","m'","v2","crim","m0","ink","guide","dot"],"range":["#ee1d23","#d42a2a","#7b8cf0","#7b8cf0","#55b226","#f47b2c","#a48de8","#c8102e","#d4562e","#111111","#a3a3a3","#666666"]}}}}
 ]
}
